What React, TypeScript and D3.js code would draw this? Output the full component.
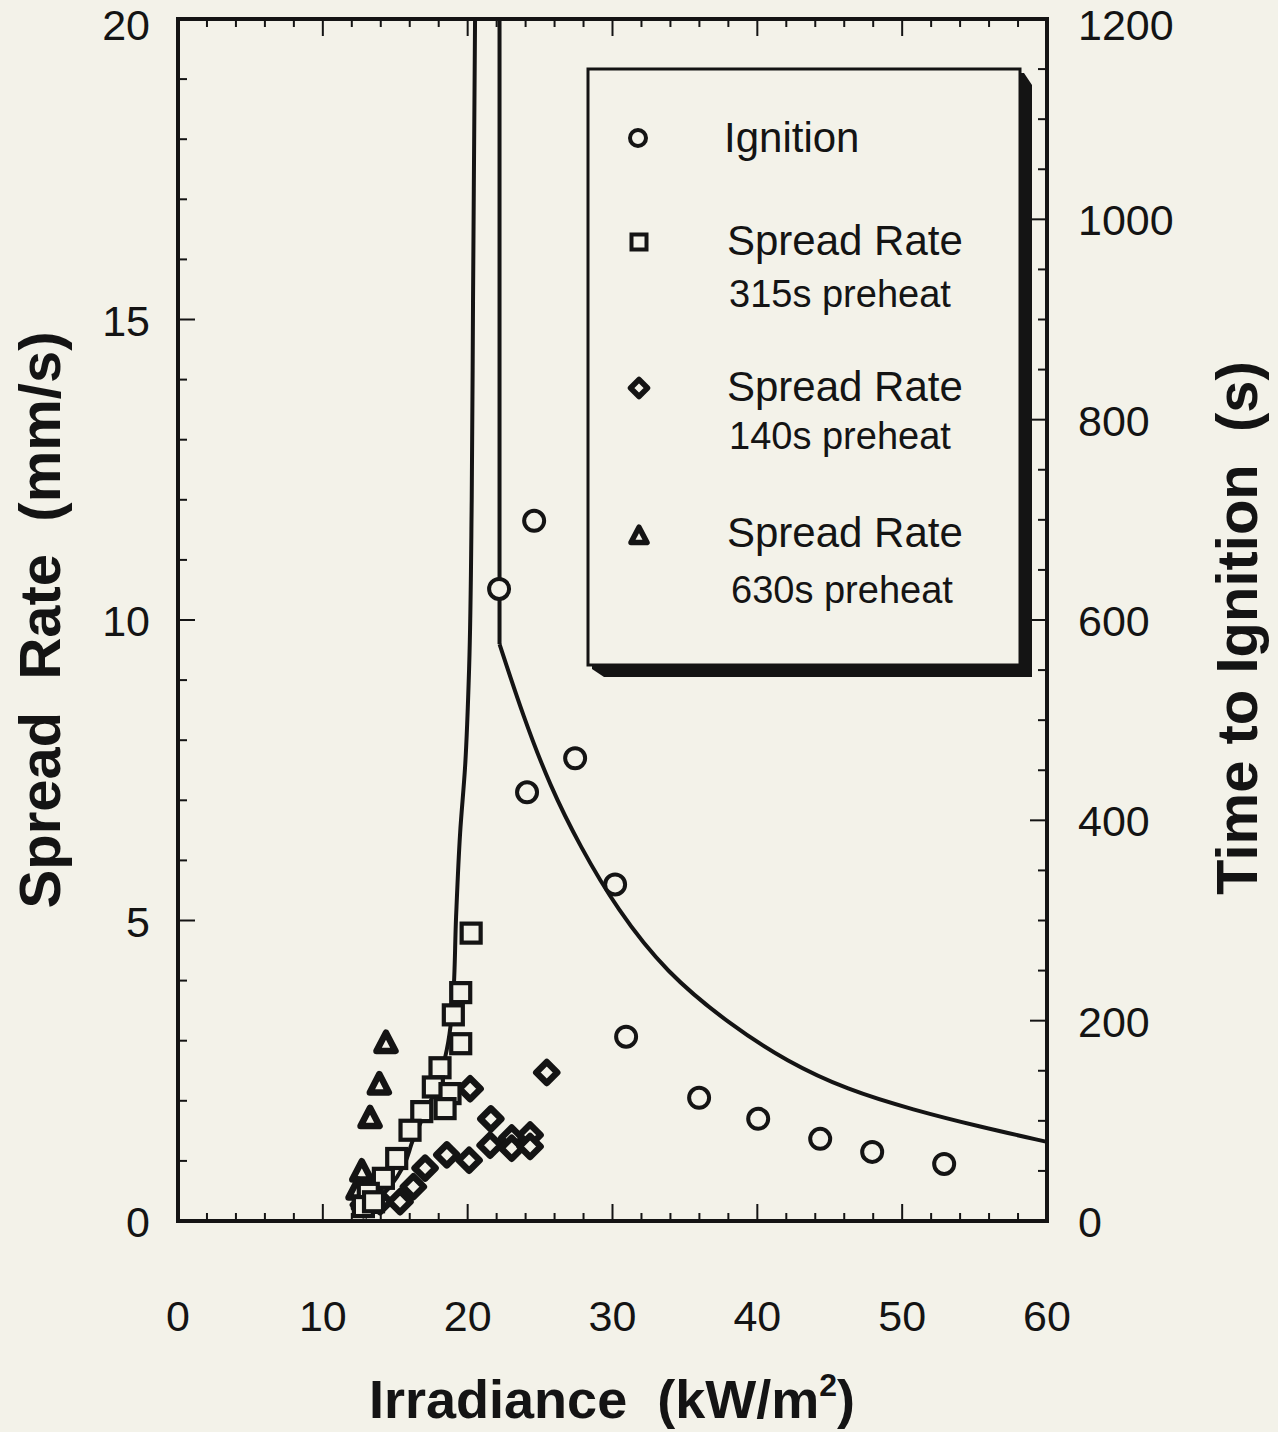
import React from "react";
import * as d3 from "d3";

// Ignition data: irradiance (kW/m²) and time to ignition (s)
const ignitionQ = [22.17, 24.59, 27.42, 24.1, 30.18, 30.94, 35.98, 40.06, 44.34, 47.93, 52.9];
const ignitionT = [631, 699, 462, 428, 336, 184, 123, 102, 82, 69, 57];

// Spread rate, 315 s preheat
const sq315Q = [20.24, 19.52, 19.01, 19.52, 18.09, 17.63, 18.78, 18.44, 16.83, 16.02, 15.1, 14.18, 13.14, 12.8, 13.5];
const sq315V = [4.79, 3.8, 3.43, 2.95, 2.55, 2.23, 2.12, 1.87, 1.82, 1.51, 1.04, 0.71, 0.46, 0.24, 0.32];

// Spread rate, 140 s preheat
const dm140Q = [25.46, 20.17, 21.6, 21.55, 23.04, 24.31, 23.04, 24.31, 18.56, 20.1, 17.06, 16.25, 15.33, 13.95, 12.8];
const dm140V = [2.47, 2.2, 1.7, 1.26, 1.38, 1.43, 1.21, 1.24, 1.1, 1.01, 0.88, 0.57, 0.32, 0.32, 0.27];

// Spread rate, 630 s preheat
const tr630Q = [14.36, 13.9, 13.26, 12.69, 12.43, 12.8, 13.2];
const tr630V = [2.96, 2.27, 1.71, 0.82, 0.52, 0.35, 0.3];

// Fitted spread-rate curve (irradiance vs spread rate)
const spreadFitQ = [12.9, 13.47, 14.64, 15.54, 16.23, 17.06, 17.87, 18.56, 18.99, 19.2, 19.48, 19.82, 20.1, 20.28, 20.37, 20.51];
const spreadFitV = [0.05, 0.27, 0.57, 0.9, 1.35, 1.8, 2.23, 2.85, 3.68, 5.06, 6.46, 7.55, 9.2, 12.0, 15.3, 20.0];

// Fitted ignition curve (irradiance vs time to ignition)
const ignFitQ = [22.2, 22.2, 23.83, 25.69, 27.76, 30.32, 33.7, 38.12, 42.06, 46.2, 50.76, 55.39, 60];
const ignFitT = [1200, 576, 504, 434, 374, 311, 248, 196, 159, 131, 111, 94, 79];

const xTickLabels = [0, 10, 20, 30, 40, 50, 60];
const leftTickLabels = [0, 5, 10, 15, 20];
const rightTickLabels = [0, 200, 400, 600, 800, 1000, 1200];

const W = 1278;
const H = 1432;
const BG = "#f3f2e9";
const INK = "#141414";
const FONT = "'Liberation Sans', Arial, Helvetica, sans-serif";

const x = d3.scaleLinear().domain([0, 60]).range([178, 1047]);
const yL = d3.scaleLinear().domain([0, 20]).range([1221, 19]);
const yR = d3.scaleLinear().domain([0, 1200]).range([1221, 19]);

function Circle({ cx, cy, r = 10, sw = 4 }: any) {
  return <circle cx={cx} cy={cy} r={r} fill={BG} stroke={INK} strokeWidth={sw} />;
}
function Square({ cx, cy, s = 19, sw = 4.2 }: any) {
  return <rect x={cx - s / 2} y={cy - s / 2} width={s} height={s} fill={BG} stroke={INK} strokeWidth={sw} />;
}
function Diamond({ cx, cy, s = 10.5, sw = 6.5 }: any) {
  const p = `M${cx},${cy - s}L${cx + s},${cy}L${cx},${cy + s}L${cx - s},${cy}Z`;
  return <path d={p} fill={BG} stroke={INK} strokeWidth={sw} strokeLinejoin="round" />;
}
function Triangle({ cx, cy, s = 9.5, sw = 6.5 }: any) {
  const h = s * 1.1;
  const p = `M${cx},${cy - h}L${cx + s},${cy + h * 0.75}L${cx - s},${cy + h * 0.75}Z`;
  return <path d={p} fill={BG} stroke={INK} strokeWidth={sw} strokeLinejoin="round" />;
}

export default function App() {
  const spreadLine = d3
    .line<number>()
    .x((_, i) => x(spreadFitQ[i]))
    .y((_, i) => yL(spreadFitV[i]))
    .curve(d3.curveMonotoneY);
  const ignVert = d3
    .line<number>()
    .x((_, i) => x(ignFitQ[i]))
    .y((_, i) => yR(ignFitT[i]));
  const ignCurve = d3
    .line<number>()
    .x((_, i) => x(ignFitQ[i + 1]))
    .y((_, i) => yR(ignFitT[i + 1]))
    .curve(d3.curveBasis);

  const left = x(0), right = x(60), top = yL(20), bottom = yL(0);

  // Minor ticks every 2 kW/m², long ones every 10
  const xTicks = d3.range(0, 61, 2).filter((v) => v > 0 && v < 60);
  const lTicks = d3.range(1, 20, 1);
  const rTicks = d3.range(50, 1200, 50);

  // Legend box geometry
  const lx0 = 588, ly0 = 69, lx1 = 1020, ly1 = 665, sh = 12;

  return (
    <svg width={W} height={H} style={{ position: "absolute", left: 0, top: 0 }} fontFamily={FONT}>
      <rect width={W} height={H} fill={BG} />

      {/* tick marks */}
      <g stroke={INK} strokeWidth={2}>
        {xTicks.map((v) => {
          const len = v % 10 === 0 ? 17 : 8;
          return (
            <g key={"x" + v}>
              <line x1={x(v)} x2={x(v)} y1={bottom} y2={bottom - len} />
              <line x1={x(v)} x2={x(v)} y1={top} y2={top + len} />
            </g>
          );
        })}
        {lTicks.map((v) => {
          const len = v % 5 === 0 ? 17 : 9;
          return <line key={"l" + v} x1={left} x2={left + len} y1={yL(v)} y2={yL(v)} />;
        })}
        {rTicks.map((v) => {
          const len = v % 200 === 0 ? 17 : 9;
          return <line key={"r" + v} x1={right} x2={right - len} y1={yR(v)} y2={yR(v)} />;
        })}
      </g>

      {/* fitted curves */}
      <path d={spreadLine(spreadFitQ) || ""} fill="none" stroke={INK} strokeWidth={4} />
      <path d={ignVert(ignFitQ.slice(0, 2)) || ""} fill="none" stroke={INK} strokeWidth={4} />
      <path d={ignCurve(ignFitQ.slice(1)) || ""} fill="none" stroke={INK} strokeWidth={4} />

      {/* legend */}
      <path
        d={`M${lx1},${ly0 + 4}L${lx1 + 4},${ly0 + 4}L${lx1 + sh},${ly0 + 4 + sh}L${lx1 + sh},${ly1 + sh}L${lx0 + 4 + sh},${ly1 + sh}L${lx0 + 4},${ly1 + 4}L${lx0 + 4},${ly1}L${lx1},${ly1}Z`}
        fill={INK}
      />
      <rect x={lx0} y={ly0} width={lx1 - lx0} height={ly1 - ly0} fill={BG} stroke={INK} strokeWidth={3} />
      <Circle cx={638} cy={138} r={8} sw={4} />
      <Square cx={639} cy={242} s={15} sw={4} />
      <Diamond cx={639} cy={388} s={8.5} sw={5.5} />
      <Triangle cx={639} cy={536} s={8} sw={5.5} />
      <g fill={INK} fontSize={42}>
        <text x={724} y={152}>Ignition</text>
        <text x={727} y={255}>Spread Rate</text>
        <text x={729} y={307} fontSize={38}>315s preheat</text>
        <text x={727} y={401}>Spread Rate</text>
        <text x={729} y={449} fontSize={38}>140s preheat</text>
        <text x={727} y={547}>Spread Rate</text>
        <text x={731} y={603} fontSize={38}>630s preheat</text>
      </g>

      {/* data markers */}
      {dm140Q.map((q, i) => (
        <Diamond key={"d" + i} cx={x(q)} cy={yL(dm140V[i])} />
      ))}
      {tr630Q.map((q, i) => (
        <Triangle key={"t" + i} cx={x(q)} cy={yL(tr630V[i])} />
      ))}
      {sq315Q.map((q, i) => (
        <Square key={"s" + i} cx={x(q)} cy={yL(sq315V[i])} />
      ))}
      {ignitionQ.map((q, i) => (
        <Circle key={"c" + i} cx={x(q)} cy={yR(ignitionT[i])} />
      ))}

      {/* frame */}
      <rect x={left} y={top} width={right - left} height={bottom - top} fill="none" stroke={INK} strokeWidth={4} />

      {/* tick labels */}
      <g fill={INK} fontSize={43}>
        {xTickLabels.map((v) => (
          <text key={"xl" + v} x={x(v)} y={1331} textAnchor="middle">{v}</text>
        ))}
        {leftTickLabels.map((v) => (
          <text key={"ll" + v} x={150} y={Math.max(yL(v) + 16, 40)} textAnchor="end">{v}</text>
        ))}
        {rightTickLabels.map((v) => (
          <text key={"rl" + v} x={1078} y={Math.max(yR(v) + 16, 40)} textAnchor="start">{v}</text>
        ))}
      </g>

      {/* axis titles */}
      <text x={612} y={1418} textAnchor="middle" fontSize={54} fontWeight="bold" fill={INK}>
        Irradiance{"\u00A0\u00A0"}(kW/m<tspan dy={-22} fontSize={32}>2</tspan><tspan dy={22}>)</tspan>
      </text>
      <text
        transform={`translate(60,620) rotate(-90)`}
        textAnchor="middle"
        fontSize={58}
        fontWeight="bold"
        fill={INK}
      >
        Spread{"\u00A0\u00A0"}Rate{"\u00A0\u00A0"}(mm/s)
      </text>
      <text
        transform={`translate(1257,628) rotate(-90)`}
        textAnchor="middle"
        fontSize={58}
        fontWeight="bold"
        fill={INK}
      >
        Time to Ignition{"\u00A0\u00A0"}(s)
      </text>
    </svg>
  );
}
